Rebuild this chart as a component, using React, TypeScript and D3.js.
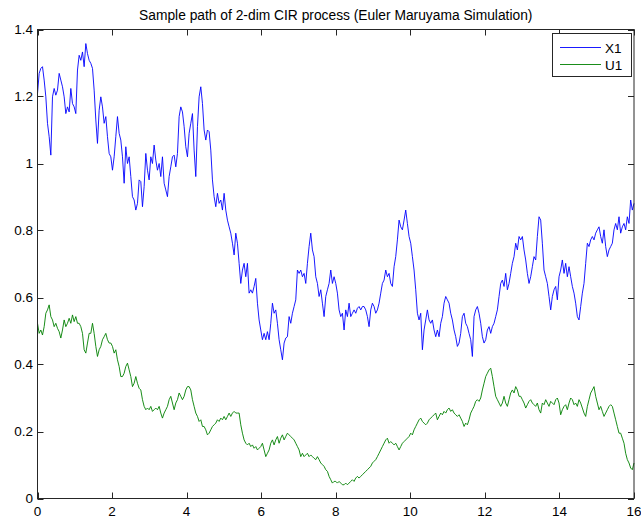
import React from "react";
import * as d3 from "d3";

// Sample path values, uniformly spaced over t in [0, 16]
const x1Values: number[] = [
  1.209, 1.269, 1.284, 1.289, 1.249, 1.199, 1.12, 1.08, 1.025, 1.199, 1.224, 1.204, 1.219, 1.269, 1.249, 1.229, 1.199, 1.149, 1.169, 1.154,
  1.224, 1.179, 1.169, 1.149, 1.279, 1.323, 1.308, 1.333, 1.289, 1.358, 1.328, 1.308, 1.299, 1.284, 1.219, 1.13, 1.06, 1.159, 1.199, 1.169,
  1.12, 1.14, 1.08, 1.03, 1.02, 0.98, 1.02, 1.08, 1.14, 1.09, 1.07, 1.02, 0.941, 1.05, 1.0, 1.02, 0.961, 0.901, 0.891, 0.861,
  0.881, 0.951, 0.946, 0.871, 0.931, 1.03, 0.98, 0.951, 1.02, 1.0, 1.055, 1.01, 0.98, 1.0, 0.961, 1.02, 0.941, 0.921, 0.901, 0.961,
  0.99, 1.02, 1.025, 0.99, 1.03, 1.14, 1.169, 1.154, 1.11, 1.05, 1.02, 1.09, 1.12, 1.149, 1.04, 0.961, 1.11, 1.199, 1.229, 1.179,
  1.1, 1.07, 1.1, 1.095, 1.04, 0.951, 0.901, 0.871, 0.911, 0.881, 0.891, 0.861, 0.911, 0.861, 0.831, 0.811, 0.792, 0.762, 0.727, 0.792,
  0.762, 0.702, 0.642, 0.682, 0.702, 0.662, 0.702, 0.613, 0.623, 0.613, 0.633, 0.657, 0.583, 0.533, 0.503, 0.474, 0.493, 0.474, 0.498, 0.474,
  0.523, 0.583, 0.553, 0.563, 0.523, 0.474, 0.444, 0.414, 0.464, 0.479, 0.483, 0.543, 0.523, 0.553, 0.573, 0.593, 0.682, 0.672, 0.682, 0.662,
  0.672, 0.642, 0.702, 0.752, 0.792, 0.742, 0.722, 0.662, 0.642, 0.603, 0.623, 0.583, 0.543, 0.603, 0.623, 0.642, 0.682, 0.642, 0.662, 0.642,
  0.613, 0.563, 0.543, 0.553, 0.503, 0.563, 0.543, 0.583, 0.543, 0.553, 0.563, 0.553, 0.568, 0.573, 0.563, 0.573, 0.573, 0.563, 0.543, 0.513,
  0.563, 0.583, 0.573, 0.553, 0.563, 0.583, 0.613, 0.642, 0.652, 0.682, 0.662, 0.672, 0.642, 0.633, 0.692, 0.722, 0.772, 0.831, 0.811, 0.802,
  0.831, 0.861, 0.821, 0.782, 0.762, 0.722, 0.682, 0.623, 0.553, 0.533, 0.553, 0.444, 0.503, 0.533, 0.563, 0.533, 0.523, 0.533, 0.503, 0.483,
  0.503, 0.483, 0.523, 0.543, 0.583, 0.603, 0.593, 0.583, 0.553, 0.533, 0.503, 0.483, 0.454, 0.464, 0.493, 0.543, 0.553, 0.523, 0.513, 0.493,
  0.474, 0.424, 0.543, 0.563, 0.573, 0.553, 0.523, 0.483, 0.464, 0.474, 0.503, 0.513, 0.493, 0.513, 0.523, 0.543, 0.563, 0.603, 0.642, 0.652,
  0.633, 0.672, 0.623, 0.642, 0.672, 0.702, 0.722, 0.762, 0.742, 0.782, 0.772, 0.782, 0.742, 0.712, 0.672, 0.642, 0.662, 0.692, 0.722, 0.712,
  0.782, 0.841, 0.831, 0.762, 0.682, 0.662, 0.642, 0.603, 0.563, 0.603, 0.623, 0.633, 0.593, 0.662, 0.682, 0.712, 0.672, 0.702, 0.662, 0.692,
  0.662, 0.633, 0.613, 0.583, 0.543, 0.533, 0.573, 0.613, 0.642, 0.702, 0.762, 0.752, 0.772, 0.782, 0.772, 0.792, 0.802, 0.811, 0.782, 0.762,
  0.802, 0.752, 0.722, 0.742, 0.752, 0.762, 0.802, 0.821, 0.802, 0.841, 0.792, 0.811, 0.821, 0.802, 0.841, 0.821, 0.891, 0.861, 0.881,
];

const u1Values: number[] = [
  0.523, 0.493, 0.503, 0.488, 0.513, 0.553, 0.563, 0.578, 0.543, 0.533, 0.513, 0.523, 0.508, 0.498, 0.479, 0.503, 0.533, 0.513, 0.523, 0.538,
  0.523, 0.548, 0.528, 0.543, 0.523, 0.523, 0.513, 0.493, 0.444, 0.434, 0.464, 0.493, 0.493, 0.523, 0.493, 0.454, 0.424, 0.444, 0.454, 0.474,
  0.483, 0.493, 0.474, 0.464, 0.464, 0.454, 0.434, 0.444, 0.414, 0.394, 0.364, 0.364, 0.374, 0.394, 0.404, 0.384, 0.364, 0.334, 0.344, 0.364,
  0.344, 0.329, 0.324, 0.295, 0.275, 0.265, 0.27, 0.265, 0.275, 0.26, 0.265, 0.27, 0.265, 0.275, 0.255, 0.24, 0.255, 0.265, 0.275, 0.295,
  0.305, 0.285, 0.265, 0.285, 0.295, 0.315, 0.305, 0.295, 0.305, 0.324, 0.334, 0.334, 0.324, 0.295, 0.275, 0.255, 0.245, 0.23, 0.235, 0.215,
  0.215, 0.205, 0.19, 0.195, 0.205, 0.215, 0.22, 0.225, 0.235, 0.23, 0.24, 0.235, 0.245, 0.235, 0.245, 0.255, 0.245, 0.255, 0.26, 0.255,
  0.255, 0.255, 0.22, 0.195, 0.175, 0.165, 0.16, 0.165, 0.155, 0.16, 0.15, 0.155, 0.145, 0.15, 0.155, 0.165, 0.145, 0.125, 0.135, 0.145,
  0.165, 0.175, 0.16, 0.175, 0.185, 0.165, 0.18, 0.19, 0.175, 0.185, 0.195, 0.19, 0.185, 0.18, 0.175, 0.165, 0.155, 0.145, 0.125, 0.135,
  0.125, 0.13, 0.135, 0.125, 0.13, 0.125, 0.12, 0.116, 0.125, 0.116, 0.106, 0.101, 0.096, 0.086, 0.081, 0.066, 0.056, 0.046, 0.051, 0.051,
  0.046, 0.051, 0.046, 0.041, 0.041, 0.046, 0.041, 0.046, 0.051, 0.056, 0.051, 0.061, 0.066, 0.061, 0.066, 0.071, 0.076, 0.081, 0.086, 0.091,
  0.096, 0.106, 0.111, 0.116, 0.125, 0.135, 0.145, 0.155, 0.165, 0.175, 0.18, 0.165, 0.17, 0.165, 0.16, 0.165, 0.155, 0.145, 0.155, 0.165,
  0.17, 0.175, 0.18, 0.185, 0.195, 0.19, 0.205, 0.215, 0.225, 0.235, 0.24, 0.23, 0.225, 0.22, 0.225, 0.235, 0.24, 0.245, 0.25, 0.255,
  0.235, 0.245, 0.255, 0.25, 0.26, 0.255, 0.265, 0.27, 0.26, 0.265, 0.255, 0.25, 0.245, 0.25, 0.24, 0.23, 0.215, 0.225, 0.22, 0.235,
  0.255, 0.265, 0.275, 0.29, 0.295, 0.29, 0.3, 0.324, 0.344, 0.364, 0.374, 0.384, 0.389, 0.364, 0.334, 0.305, 0.295, 0.285, 0.275, 0.285,
  0.305, 0.285, 0.275, 0.295, 0.315, 0.324, 0.315, 0.334, 0.324, 0.305, 0.305, 0.295, 0.285, 0.27, 0.28, 0.29, 0.295, 0.285, 0.28, 0.275,
  0.285, 0.265, 0.255, 0.285, 0.28, 0.295, 0.285, 0.275, 0.29, 0.285, 0.28, 0.295, 0.3, 0.285, 0.25, 0.265, 0.275, 0.28, 0.265, 0.285,
  0.3, 0.295, 0.28, 0.285, 0.275, 0.295, 0.285, 0.27, 0.255, 0.245, 0.275, 0.295, 0.315, 0.324, 0.334, 0.305, 0.285, 0.265, 0.275, 0.26,
  0.245, 0.255, 0.265, 0.275, 0.28, 0.275, 0.255, 0.235, 0.215, 0.195, 0.195, 0.18, 0.165, 0.135, 0.116, 0.106, 0.091, 0.086, 0.106,
];

const T_END = 16;
const xTicks = [0, 2, 4, 6, 8, 10, 12, 14, 16];
const yTicks = [0, 0.2, 0.4, 0.6, 0.8, 1, 1.2, 1.4];
const seriesNames = ["X1", "U1"];
const seriesColors = ["#0000ff", "#008000"];
const titleText = "Sample path of 2-dim CIR process (Euler Maruyama Simulation)";

const W = 641;
const H = 523;
const box = { left: 37.5, right: 634, top: 29.5, bottom: 498.5 };
const FONT = "'Liberation Sans', Arial, Helvetica, sans-serif";
const TICK_FONT = 13.5;

export default function App() {
  const x = d3.scaleLinear().domain([0, T_END]).range([box.left, box.right]);
  const y = d3.scaleLinear().domain([0, 1.4]).range([box.bottom, box.top]);

  const toPath = (vals: number[]) =>
    d3
      .line<number>()
      .x((_, i) => x((i * T_END) / (vals.length - 1)))
      .y((v) => y(v))(vals) as string;

  const series = [x1Values, u1Values];
  const tickLen = 6;
  const axisColor = "#262626";

  const legend = { x0: 552.5, y0: 33.5, w: 79, h: 43 };

  return (
    <svg
      width={W}
      height={H}
      style={{ position: "absolute", left: 0, top: 0, background: "#fff" }}
      fontFamily={FONT}
    >
      <rect x={0} y={0} width={W} height={H} fill="#fff" />
      <text x={(box.left + box.right) / 2} y={20} textAnchor="middle" fontSize={13.8} fill="#000">
        {titleText}
      </text>

      {series.map((vals, k) => (
        <path key={k} d={toPath(vals)} fill="none" stroke={seriesColors[k]} strokeWidth={0.9} strokeLinejoin="round" />
      ))}

      {/* axes box */}
      <rect
        x={box.left}
        y={box.top}
        width={box.right - box.left}
        height={box.bottom - box.top}
        fill="none"
        stroke={axisColor}
        strokeWidth={1}
      />

      {xTicks.map((t) => (
        <g key={"xt" + t}>
          <line x1={Math.round(x(t)) + 0.5} x2={Math.round(x(t)) + 0.5} y1={box.bottom} y2={box.bottom - tickLen} stroke={axisColor} />
          <line x1={Math.round(x(t)) + 0.5} x2={Math.round(x(t)) + 0.5} y1={box.top} y2={box.top + tickLen} stroke={axisColor} />
          <text x={x(t)} y={515.5} textAnchor="middle" fontSize={TICK_FONT} fill="#000">
            {t}
          </text>
        </g>
      ))}

      {yTicks.map((v) => (
        <g key={"yt" + v}>
          <line x1={box.left} x2={box.left + tickLen} y1={Math.round(y(v)) + 0.5} y2={Math.round(y(v)) + 0.5} stroke={axisColor} />
          <line x1={box.right} x2={box.right - tickLen} y1={Math.round(y(v)) + 0.5} y2={Math.round(y(v)) + 0.5} stroke={axisColor} />
          <text x={33} y={y(v) + 4.8} textAnchor="end" fontSize={TICK_FONT} fill="#000">
            {String(v)}
          </text>
        </g>
      ))}

      {/* legend */}
      <rect x={legend.x0} y={legend.y0} width={legend.w} height={legend.h} fill="#fff" stroke={axisColor} />
      {seriesNames.map((name, k) => (
        <g key={name}>
          <line
            x1={560}
            x2={601}
            y1={legend.y0 + 14 + k * 17}
            y2={legend.y0 + 14 + k * 17}
            stroke={seriesColors[k]}
            strokeWidth={0.9}
          />
          <text x={605} y={legend.y0 + 19.5 + k * 17} fontSize={TICK_FONT} fill="#000">
            {name}
          </text>
        </g>
      ))}
    </svg>
  );
}
